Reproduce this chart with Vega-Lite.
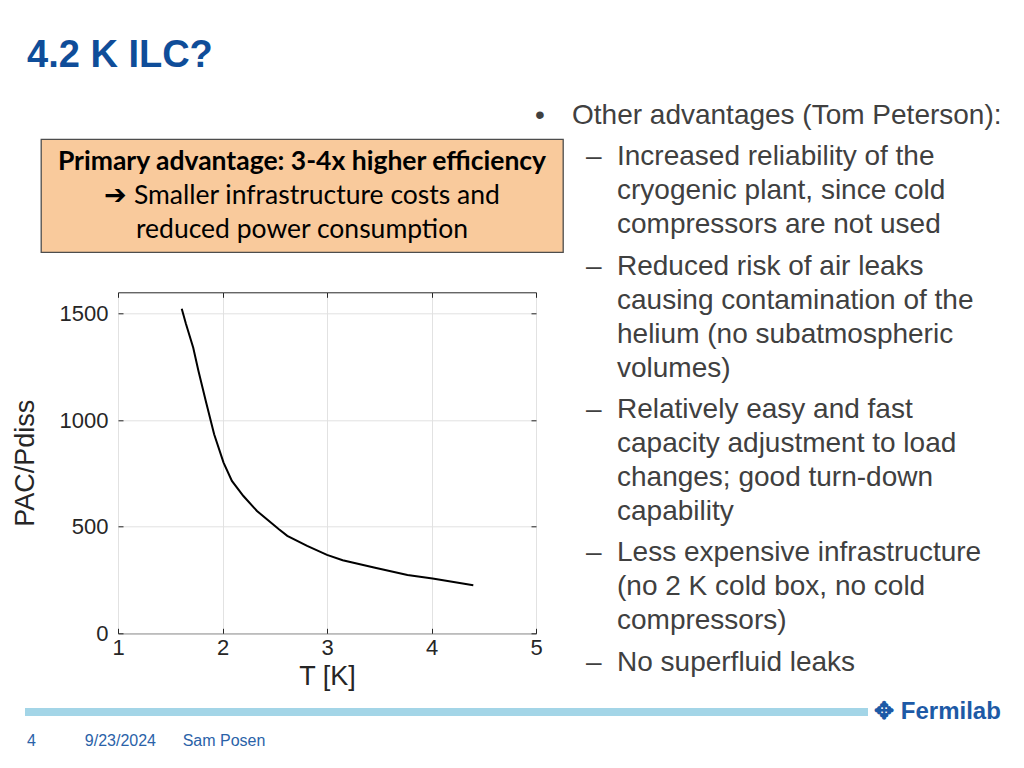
{
  "$schema": "https://vega.github.io/schema/vega-lite/v6.json",
  "background": "white",
  "padding": {"left": 10, "top": 37, "right": 0, "bottom": 0},
  "title": {"text": "4.2 K ILC?", "anchor": "start", "frame": "group", "dx": -14, "offset": 24, "font": "Liberation Sans", "fontSize": 38, "fontWeight": "bold", "color": "#0f4d99"},
  "spacing": 10,
  "vconcat": [
    {
      "spacing": -29,
      "align": "none",
      "hconcat": [
        {
          "spacing": 38.15,
          "vconcat": [
            {"width": 1, "height": 0.5, "data": {"values": []}, "mark": {"type": "point", "opacity": 0}},
            {
              "width": 522,
              "height": 113,
              "view": {"fill": "#f9ca9c", "stroke": "#4d4d4d", "strokeWidth": 1.3},
              "data": {"values": [
                {"line": 1, "text": "Primary advantage: 3-4x higher efficiency"},
                {"line": 2, "text": "➔ Smaller infrastructure costs and"},
                {"line": 3, "text": "reduced power consumption"}
              ]},
              "encoding": {
                "y": {"field": "line", "type": "ordinal", "scale": {"padding": 0.66}, "axis": null},
                "text": {"field": "text"}
              },
              "layer": [
                {"transform": [{"filter": "datum.line == 1"}], "mark": {"type": "text", "font": "Lato", "fontSize": 26.5, "fontWeight": "bold", "color": "#000000"}},
                {"transform": [{"filter": "datum.line > 1"}], "mark": {"type": "text", "font": "Lato", "fontSize": 26.5, "color": "#000000"}}
              ]
            },
            {
              "spacing": -32,
              "hconcat": [
                {"width": 1, "height": 1, "data": {"values": []}, "mark": {"type": "point", "opacity": 0}},
                {
                  "width": 418,
                  "height": 341,
                  "view": {"stroke": "#262626", "strokeWidth": 1},
                  "data": {"values": [
                    {"T": 1.61, "R": 1523}, {"T": 1.65, "R": 1452}, {"T": 1.72, "R": 1340},
                    {"T": 1.77, "R": 1231}, {"T": 1.84, "R": 1090}, {"T": 1.92, "R": 934},
                    {"T": 2.01, "R": 801}, {"T": 2.09, "R": 715}, {"T": 2.2, "R": 644},
                    {"T": 2.33, "R": 574}, {"T": 2.54, "R": 488}, {"T": 2.62, "R": 457},
                    {"T": 2.81, "R": 410}, {"T": 3.0, "R": 368}, {"T": 3.15, "R": 343},
                    {"T": 3.46, "R": 308}, {"T": 3.77, "R": 274}, {"T": 4.01, "R": 257},
                    {"T": 4.4, "R": 225}
                  ]},
                  "layer": [
                    {
                      "mark": {"type": "line", "color": "#000000", "strokeWidth": 2},
                      "encoding": {
                        "x": {"field": "T", "type": "quantitative", "scale": {"domain": [1, 5], "nice": false},
                              "axis": {"orient": "bottom", "values": [1, 2, 3, 4, 5], "format": "d", "title": "T [K]", "grid": true, "gridColor": "#e2e2e2", "labelFlush": false,
                                       "domain": false, "tickSize": -5, "tickColor": "#262626", "labelPadding": 9, "labelFont": "Liberation Sans", "labelFontSize": 22,
                                       "labelColor": "#262626", "titleFont": "Liberation Sans", "titleFontSize": 27, "titleFontWeight": "normal", "titleColor": "#262626", "titlePadding": 5}},
                        "y": {"field": "R", "type": "quantitative", "scale": {"domain": [0, 1600], "nice": false},
                              "axis": {"orient": "left", "values": [0, 500, 1000, 1500], "format": "d", "title": "PAC/Pdiss", "grid": true, "gridColor": "#e2e2e2", "labelFlush": false,
                                       "domain": false, "tickSize": -5, "tickColor": "#262626", "labelPadding": 15, "labelFont": "Liberation Sans", "labelFontSize": 22,
                                       "labelColor": "#262626", "titleFont": "Liberation Sans", "titleFontSize": 27, "titleFontWeight": "normal", "titleColor": "#262626", "titlePadding": 20}}
                      }
                    },
                    {
                      "mark": {"type": "line", "opacity": 0},
                      "encoding": {
                        "x": {"field": "T", "type": "quantitative", "scale": {"domain": [1, 5], "nice": false},
                              "axis": {"orient": "top", "values": [1, 2, 3, 4, 5], "labels": false, "title": null, "grid": false, "domain": false, "tickSize": -5, "tickColor": "#262626", "titlePadding": 0}},
                        "y": {"field": "R", "type": "quantitative", "scale": {"domain": [0, 1600], "nice": false},
                              "axis": {"orient": "right", "values": [0, 500, 1000, 1500], "labels": false, "title": null, "grid": false, "domain": false, "tickSize": -5, "tickColor": "#262626", "titlePadding": 0}}
                      }
                    }
                  ],
                  "resolve": {"axis": {"x": "independent", "y": "independent"}}
                }
              ]
            }
          ]
        },
        {
          "data": {"values": [
            {"item": 1, "line": 1, "level": 1, "marker": "•", "text": "Other advantages (Tom Peterson):"},
            {"item": 2, "line": 1, "level": 2, "marker": "–", "text": "Increased reliability of the"},
            {"item": 2, "line": 2, "level": 2, "marker": "", "text": "cryogenic plant, since cold"},
            {"item": 2, "line": 3, "level": 2, "marker": "", "text": "compressors are not used"},
            {"item": 3, "line": 1, "level": 2, "marker": "–", "text": "Reduced risk of air leaks"},
            {"item": 3, "line": 2, "level": 2, "marker": "", "text": "causing contamination of the"},
            {"item": 3, "line": 3, "level": 2, "marker": "", "text": "helium (no subatmospheric"},
            {"item": 3, "line": 4, "level": 2, "marker": "", "text": "volumes)"},
            {"item": 4, "line": 1, "level": 2, "marker": "–", "text": "Relatively easy and fast"},
            {"item": 4, "line": 2, "level": 2, "marker": "", "text": "capacity adjustment to load"},
            {"item": 4, "line": 3, "level": 2, "marker": "", "text": "changes; good turn-down"},
            {"item": 4, "line": 4, "level": 2, "marker": "", "text": "capability"},
            {"item": 5, "line": 1, "level": 2, "marker": "–", "text": "Less expensive infrastructure"},
            {"item": 5, "line": 2, "level": 2, "marker": "", "text": "(no 2 K cold box, no cold"},
            {"item": 5, "line": 3, "level": 2, "marker": "", "text": "compressors)"},
            {"item": 6, "line": 1, "level": 2, "marker": "–", "text": "No superfluid leaks"}
          ]},
          "facet": {"row": {"field": "item", "type": "ordinal", "title": null, "header": {"labels": false, "title": null}}},
          "spacing": {"row": 7.3},
          "resolve": {"scale": {"y": "independent"}},
          "spec": {
            "width": 480,
            "height": {"step": 34},
            "encoding": {
              "y": {"field": "line", "type": "ordinal", "axis": null}
            },
            "layer": [
              {
                "mark": {"type": "text", "align": "left", "baseline": "middle", "font": "Liberation Sans", "fontSize": 28, "color": "#404040"},
                "encoding": {
                  "x": {"field": "level", "type": "ordinal", "scale": {"type": "point", "domain": [1, 2], "range": [0, 51], "padding": 0}, "axis": null},
                  "text": {"field": "marker"}
                }
              },
              {
                "mark": {"type": "text", "align": "left", "baseline": "middle", "font": "Liberation Sans", "fontSize": 28, "color": "#404040"},
                "encoding": {
                  "x": {"field": "level", "type": "ordinal", "scale": {"type": "point", "domain": [1, 2], "range": [37, 82], "padding": 0}, "axis": null},
                  "text": {"field": "text"}
                }
              }
            ],
            "resolve": {"scale": {"x": "independent"}}
          }
        }
      ]
    },
    {
      "spacing": -17,
      "align": "none",
      "hconcat": [
        {"width": 1, "height": 1, "data": {"values": []}, "mark": {"type": "point", "opacity": 0}},
        {
          "width": 843,
          "height": 8,
          "data": {"values": [{}]},
          "mark": {"type": "rect", "color": "#a3d5e7"},
          "encoding": {
            "x": {"datum": 0, "type": "quantitative", "scale": {"domain": [0, 1]}, "axis": null},
            "x2": {"datum": 1},
            "y": {"datum": 0, "type": "quantitative", "scale": {"domain": [0, 1]}, "axis": null},
            "y2": {"datum": 1}
          },
          "title": {"text": "4\u00a0\u00a0\u00a0\u00a0\u00a0\u00a0\u00a0\u00a0\u00a0\u00a0\u00a09/23/2024\u00a0\u00a0\u00a0\u00a0\u00a0\u00a0Sam Posen", "orient": "bottom", "anchor": "start", "dx": 2, "offset": 17, "font": "Liberation Sans", "fontSize": 16, "fontWeight": "normal", "color": "#2a62a8"}
        },
        {
          "width": 173,
          "height": 8,
          "data": {"values": [{"name": "✥ Fermilab"}]},
          "mark": {"type": "text", "font": "Liberation Sans", "fontSize": 24, "fontWeight": "bold", "color": "#1d5aa6"},
          "encoding": {"text": {"field": "name"}}
        }
      ]
    }
  ],
  "config": {"view": {"stroke": null}, "font": "Liberation Sans"}
}
